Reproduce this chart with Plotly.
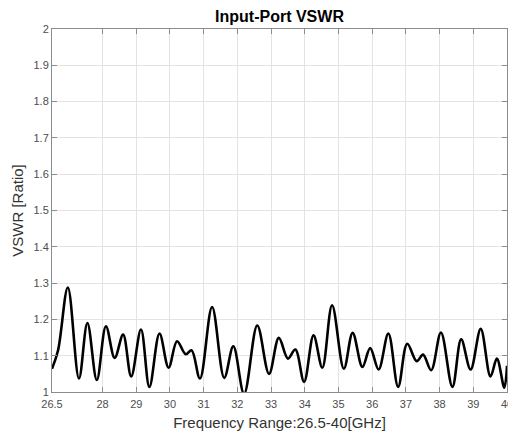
import plotly.graph_objects as go

# Frequency (GHz) and VSWR (extrema and shoulders)
freq = [26.50, 26.68, 26.97, 27.30, 27.55, 27.83, 28.10, 28.36, 28.61, 28.85,
        29.14, 29.39, 29.69, 29.96, 30.21, 30.47, 30.64, 30.89, 31.25, 31.61,
        31.88, 32.20, 32.59, 32.94, 33.23, 33.50, 33.72, 33.98, 34.26, 34.52,
        34.81, 35.16, 35.42, 35.71, 35.94, 36.19, 36.48, 36.77, 37.04, 37.32,
        37.51, 37.75, 38.04, 38.38, 38.64, 38.92, 39.22, 39.51, 39.70, 39.92,
        40.00]
vswr = [1.064, 1.115, 1.288, 1.037, 1.190, 1.033, 1.181, 1.094, 1.158, 1.043,
        1.172, 1.014, 1.161, 1.067, 1.140, 1.104, 1.115, 1.037, 1.234, 1.039,
        1.126, 0.995, 1.183, 1.050, 1.149, 1.092, 1.117, 1.028, 1.156, 1.067,
        1.239, 1.064, 1.163, 1.069, 1.121, 1.062, 1.161, 1.014, 1.133, 1.085,
        1.103, 1.060, 1.164, 1.014, 1.145, 1.062, 1.174, 1.043, 1.092, 1.012,
        1.072]

x_ticks = [26.5, 28, 29, 30, 31, 32, 33, 34, 35, 36, 37, 38, 39, 40]
x_tick_labels = ["26.5", "28", "29", "30", "31", "32", "33", "34", "35", "36", "37", "38", "39", "40"]
y_ticks = [1, 1.1, 1.2, 1.3, 1.4, 1.5, 1.6, 1.7, 1.8, 1.9, 2]
y_tick_labels = ["1", "1.1", "1.2", "1.3", "1.4", "1.5", "1.6", "1.7", "1.8", "1.9", "2"]

FONT = "Liberation Sans, Arial, sans-serif"

fig = go.Figure()
fig.add_trace(go.Scatter(
    x=freq, y=vswr, mode="lines",
    line=dict(color="#000000", width=2.6, shape="spline", smoothing=1.0),
    hoverinfo="skip", showlegend=False,
))

axis_common = dict(
    showline=True, linecolor="#8c8c8c", linewidth=1, mirror="ticks",
    ticks="inside", ticklen=5, tickcolor="#8c8c8c", tickwidth=1,
    showgrid=True, gridcolor="#e3e3e3", gridwidth=1,
    zeroline=False, automargin=False, ticklabeloverflow="allow",
    tickfont=dict(family=FONT, size=11, color="#4d4d4d"),
)

# the page body adds an 8px offset; margins compensate so the plot sits where
# the reference has it, and the overflow past the window is simply not seen
fig.update_layout(
    width=516, height=434,
    margin=dict(l=44, r=17, t=21, b=50, autoexpand=False),
    paper_bgcolor="#ffffff", plot_bgcolor="#ffffff",
    title=dict(text="<b>Input-Port VSWR</b>", x=0.5, xref="paper", xanchor="center",
               y=1 - 8 / 434, yref="container", yanchor="middle",
               font=dict(family=FONT, size=16, color="#000000")),
    xaxis=dict(range=[26.5, 40], tickvals=x_ticks, ticktext=x_tick_labels,
               ticklabelstandoff=2,
               title=dict(text="Frequency Range:26.5-40[GHz]", standoff=8,
                          font=dict(family=FONT, size=15, color="#333333")),
               **axis_common),
    yaxis=dict(range=[1, 2], tickvals=y_ticks, ticktext=y_tick_labels,
               title=dict(text="VSWR [Ratio]", standoff=6,
                          font=dict(family=FONT, size=15, color="#333333")),
               **axis_common),
)

fig.write_html("out.html")
